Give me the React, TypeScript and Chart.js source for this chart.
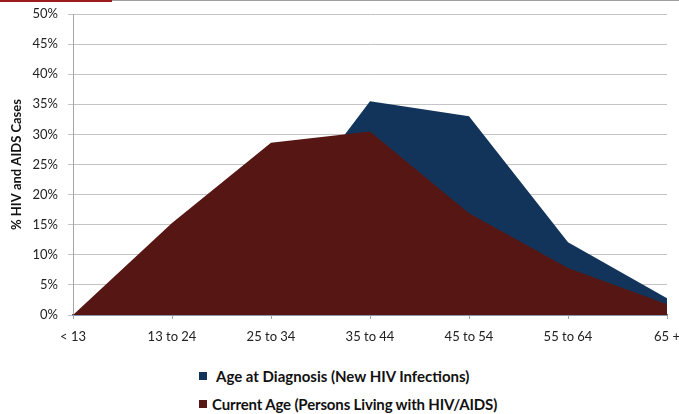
import React, { useEffect, useRef } from "react";
import { Chart, registerables } from "chart.js";

Chart.register(...registerables);

const categories = ["< 13", "13 to 24", "25 to 34", "35 to 44", "45 to 54", "55 to 64", "65 +"];
const diagnosisValues = [0, 4, 13.8, 35.5, 33.0, 12.1, 2.8];
const currentValues = [0, 15.3, 28.6, 30.5, 16.9, 7.8, 1.8];
const yTicks = [0, 5, 10, 15, 20, 25, 30, 35, 40, 45, 50];

const seriesNames = [
  "Age at Diagnosis (New HIV Infections)",
  "Current Age (Persons Living with HIV/AIDS)",
];
const NAVY = "#12345a";
const MAROON = "#561714";
const FONT = "Lato, 'Noto Sans', sans-serif";

export default function App() {
  const ref = useRef<HTMLCanvasElement | null>(null);

  useEffect(() => {
    if (!ref.current) return;
    const chart = new Chart(ref.current, {
      type: "line",
      data: {
        labels: categories,
        datasets: [
          {
            label: seriesNames[0],
            data: diagnosisValues,
            backgroundColor: NAVY,
            borderColor: NAVY,
            borderWidth: 0,
            fill: "origin",
            pointRadius: 0,
            tension: 0,
            order: 2,
          },
          {
            label: seriesNames[1],
            data: currentValues,
            backgroundColor: MAROON,
            borderColor: MAROON,
            borderWidth: 0,
            fill: "origin",
            pointRadius: 0,
            tension: 0,
            order: 1,
          },
        ],
      },
      options: {
        responsive: false,
        animation: false,
        layout: { padding: { top: 14, right: 12, left: 0, bottom: 0 } },
        plugins: {
          legend: { display: false },
          tooltip: { enabled: false },
        },
        scales: {
          x: {
            type: "category",
            offset: false,
            grid: {
              display: true,
              drawOnChartArea: false,
              drawTicks: true,
              tickLength: 4,
              color: "#a6a6a6",
            },
            border: { display: true, color: "#4a6490", width: 1.5 },
            ticks: {
              autoSkip: false,
              maxRotation: 0,
              minRotation: 0,
              padding: 10,
              color: "#222",
              font: { family: FONT, size: 13 },
            },
            afterFit: (scale: any) => {
              scale.height = 40;
              scale.paddingRight = 0;
              scale.paddingLeft = 0;
            },
          },
          y: {
            min: 0,
            max: 50,
            afterBuildTicks: (scale: any) => {
              scale.ticks = yTicks.map((v) => ({ value: v }));
            },
            grid: {
              color: "#c4c4c4",
              lineWidth: 1,
              drawTicks: true,
              tickLength: 5,
            },
            border: { display: true, color: "#a6a6a6" },
            ticks: {
              padding: 10,
              color: "#222",
              font: { family: FONT, size: 13 },
              callback: (v: any) => v + "%",
            },
            title: {
              display: true,
              text: "% HIV and AIDS Cases",
              color: "#111",
              font: { family: FONT, size: 13, weight: "bold" },
              padding: { top: 9, bottom: 4 },
            },
            afterFit: (scale: any) => {
              scale.width = 73;
              scale.paddingTop = 0;
              scale.paddingBottom = 0;
            },
          },
        },
      },
    });
    return () => chart.destroy();
  }, []);

  const legendRow = (color: string, text: string, top: number, gap: number, ls: number) => (
    <div
      style={{
        position: "absolute",
        left: 199,
        top,
        height: 16,
        display: "flex",
        alignItems: "center",
        fontFamily: FONT,
        fontWeight: 700,
        fontSize: 15,
        letterSpacing: ls,
        color: "#111",
        whiteSpace: "nowrap",
      }}
    >
      <span style={{ display: "inline-block", width: 8, height: 8, background: color, marginRight: gap }} />
      <span>{text}</span>
    </div>
  );

  return (
    <div
      style={{
        position: "fixed",
        left: 0,
        top: 0,
        width: 679,
        height: 414,
        background: "#fff",
        overflow: "hidden",
      }}
    >
      <div style={{ position: "absolute", left: 0, top: 0, width: 112, height: 2, background: "#9b1b1f" }} />
      <div style={{ position: "absolute", left: 112, top: 0, width: 567, height: 1, background: "#a0a0a0" }} />
      <canvas ref={ref} width={679} height={355} style={{ position: "absolute", left: 0, top: 0 }} />
      {legendRow(NAVY, seriesNames[0], 368, 9, 0)}
      {legendRow(MAROON, seriesNames[1], 396, 5, -0.15)}
    </div>
  );
}
